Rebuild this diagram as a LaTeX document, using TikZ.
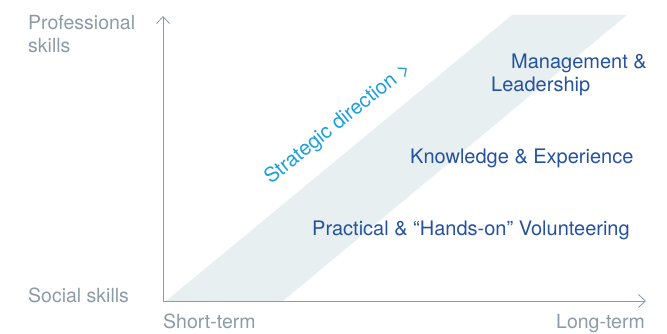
\documentclass[tikz,border=0pt]{standalone}
\usepackage{fontspec}
\setmainfont{TeX Gyre Heros}
\usetikzlibrary{arrows.meta}

\definecolor{axisgray}{RGB}{138,154,166}
\definecolor{labelgray}{RGB}{140,155,168}
\definecolor{bandfill}{RGB}{232,239,241}
\definecolor{levelblue}{RGB}{36,82,158}
\definecolor{dircyan}{RGB}{28,160,220}

\tikzset{
  axislabel/.style={inner sep=0pt,text=labelgray,font=\fontsize{19.5}{23}\selectfont},
  level/.style={inner sep=0pt,text=levelblue,font=\fontsize{20}{23}\selectfont},
  axisline/.style={draw=axisgray,line width=0.8pt,-{Straight Barb[length=7pt,width=13pt]}}
}

\begin{document}
\begin{tikzpicture}[x=1pt,y=1pt]
  \useasboundingbox (0,0) rectangle (667,333);
  \coordinate (o) at (163,32) {};
  \coordinate (t) at (163,317) {};
  \coordinate (r) at (646,32) {};
  \coordinate (a) at (166,32) {};
  \coordinate (b) at (283,32) {};
  \coordinate (c) at (627,318) {};
  \coordinate (d) at (512,318) {};

  \fill[bandfill] (a) -- (b) -- (c) -- (d) -- cycle;

  \draw[axisline] (o) -- (t);
  \draw[axisline] (o) -- (r);

  \node[axislabel,anchor=base west] (prof) at (28,304) {Professional};
  \node[axislabel,anchor=base west] (skills) at (28,281) {skills};
  \node[axislabel,anchor=base west] (social) at (28,31) {Social skills};
  \node[axislabel,anchor=base west] (short) at (163,4.5) {Short-term};
  \node[axislabel,anchor=base west] (long) at (556,4.5) {Long-term};

  \node[level,anchor=base west] (mgmt) at (511,265) {Management \&};
  \node[level,anchor=base west] (lead) at (491,242) {Leadership};
  \node[level,anchor=base west] (know) at (410,170) {Knowledge \& Experience};
  \node[level,anchor=base west] (prac) at (312,98) {Practical \& “Hands-on” Volunteering};

  \node[inner sep=0pt,text=dircyan,font=\fontsize{20.5}{23}\selectfont,
        rotate=39,anchor=base west] (dir) at (271,148) {Strategic direction >};
\end{tikzpicture}
\end{document}
